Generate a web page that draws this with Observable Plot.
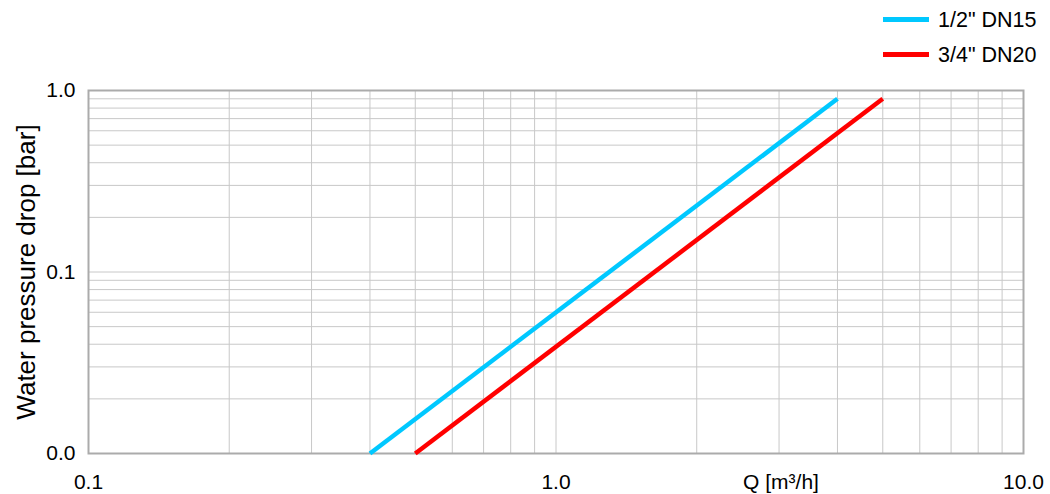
<!DOCTYPE html>
<html>
<head>
<meta charset="utf-8">
<script src="https://cdn.jsdelivr.net/npm/d3@7"></script>
<script src="https://cdn.jsdelivr.net/npm/@observablehq/plot@0.6"></script>
<style>
  html, body { margin: 0; padding: 0; background: #fff; }
  #wrap { position: relative; width: 1050px; height: 494px; font-family: "Liberation Sans", Arial, sans-serif; }
  .leg { position: absolute; left: 883px; height: 24px; display: flex; align-items: center; font-size: 21.5px; color: #000; white-space: nowrap; }
  .leg .sw { width: 46px; height: 5px; margin-right: 9px; margin-top: -2px; }
</style>
</head>
<body>
<div id="wrap"></div>
<script>
// ---- data ----
const seriesNames = ['1/2" DN15', '3/4" DN20'];
const seriesColors = ["#00c8ff", "#ff0000"];
const flowDN15 = [0.4, 4.0];
const dropDN15 = [0.01, 0.9];
const flowDN20 = [0.5, 5.0];
const dropDN20 = [0.01, 0.9];
const xTickValues = [0.1, 1, 10];
const yTickValues = [0.01, 0.1, 1];
const xGridValues = [0.2, 0.3, 0.4, 0.5, 0.6, 0.7, 0.8, 0.9, 1, 2, 3, 4, 5, 6, 7, 8, 9];
const yGridValues = [0.02, 0.03, 0.04, 0.05, 0.06, 0.07, 0.08, 0.09, 0.1, 0.2, 0.3, 0.4, 0.5, 0.6, 0.7, 0.8, 0.9];
const xLabel = "Q [m³/h]";
const yLabel = "Water pressure drop [bar]";

const rows = [
  ...flowDN15.map((q, i) => ({series: seriesNames[0], q, dp: dropDN15[i]})),
  ...flowDN20.map((q, i) => ({series: seriesNames[1], q, dp: dropDN20[i]}))
];
const fmt = d3.format(".1f");

const chart = Plot.plot({
  width: 1050,
  height: 494,
  marginLeft: 88,
  marginRight: 27,
  marginTop: 90,
  marginBottom: 41,
  style: {fontFamily: '"Liberation Sans", Arial, sans-serif', fontSize: "21px", color: "#000", background: "#fff"},
  x: {type: "log", domain: [0.1, 10]},
  y: {type: "log", domain: [0.01, 1]},
  color: {domain: seriesNames, range: seriesColors},
  marks: [
    Plot.gridX(xGridValues, {stroke: "#c8c8c8", strokeOpacity: 1, strokeWidth: 1}),
    Plot.gridY(yGridValues, {stroke: "#c8c8c8", strokeOpacity: 1, strokeWidth: 1}),
    Plot.frame({stroke: "#ababab", strokeWidth: 2}),
    Plot.line(rows, {x: "q", y: "dp", z: "series", stroke: "series", strokeWidth: 4.5, strokeLinecap: "butt"}),
    Plot.axisX(xTickValues, {tickSize: 0, tickPadding: 21, tickFormat: fmt, label: null, fill: "#000"}),
    Plot.axisY(yTickValues, {tickSize: 0, tickPadding: 13, tickFormat: fmt, label: null, fill: "#000"}),
    Plot.text([xLabel], {frameAnchor: "bottom", lineAnchor: "top", dx: 225, dy: 21, fill: "#000"}),
    Plot.text([yLabel], {frameAnchor: "left", rotate: -90, textAnchor: "middle", lineAnchor: "middle", dx: -62, fill: "#000", fontSize: 26})
  ]
});
const wrap = document.getElementById("wrap");
wrap.appendChild(chart);

seriesNames.forEach((name, i) => {
  const row = document.createElement("div");
  row.className = "leg";
  row.style.top = (8 + i * 35) + "px";
  const sw = document.createElement("span");
  sw.className = "sw";
  sw.style.background = seriesColors[i];
  const t = document.createElement("span");
  t.textContent = name;
  row.appendChild(sw);
  row.appendChild(t);
  wrap.appendChild(row);
});
</script>
</body>
</html>
